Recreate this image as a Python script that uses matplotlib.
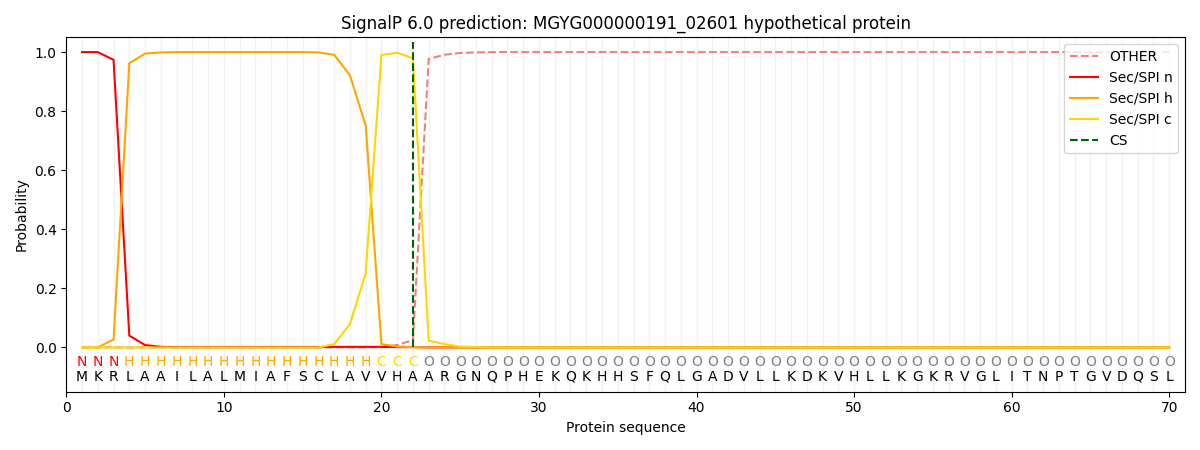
import numpy as np
import matplotlib
matplotlib.use("Agg")
import matplotlib.pyplot as plt

# ===== DATA =====
SEQUENCE = list("MKRLAAILALMIAFSCLAVVHAARGNQPHEKQKHHSFQLGADVLLKDKVHLLKGKRVGLITNPTGVDQSL")
REGIONS = list("NNN" + "H" * 16 + "CCC" + "O" * 48)
CS_POS = 22

sp_n = [1.0, 1.0, 0.974, 0.04, 0.008, 0.002, 0.001, 0.001, 0.001, 0.001,
        0.001, 0.001, 0.001, 0.001, 0.001, 0.001, 0.002, 0.002, 0.002, 0.002,
        0.001, 0.001] + [0.0] * 48
sp_h = [0.0, 0.0, 0.027, 0.962, 0.995, 0.999, 1.0, 1.0, 1.0, 1.0,
        1.0, 1.0, 1.0, 1.0, 1.0, 0.999, 0.991, 0.922, 0.752, 0.011,
        0.003, 0.001] + [0.0] * 48
sp_c = [0.0] * 16 + [0.011, 0.079, 0.25, 0.99, 0.998, 0.979, 0.023, 0.011, 0.003, 0.001] + [0.0] * 44
other = [0.0] * 19 + [0.001, 0.008, 0.025, 0.977, 0.991, 0.997, 0.999] + [1.0] * 44

REGION_COLORS = {"N": "red", "H": "orange", "C": "gold", "O": "grey"}

pos = np.arange(1, len(SEQUENCE) + 1)

fig, ax = plt.subplots(figsize=(12, 4.5), dpi=100)

for p in pos:
    ax.axvline(p, color="lightgray", alpha=0.3, lw=1, zorder=0)

ax.plot(pos, other, "--", color="lightcoral", label="OTHER")
ax.plot(pos, sp_n, color="red", label="Sec/SPI n")
ax.plot(pos, sp_h, color="orange", label="Sec/SPI h")
ax.plot(pos, sp_c, color="gold", label="Sec/SPI c")
ax.vlines(CS_POS, 0, 1.035, color="darkgreen", ls="--", label="CS")

for p, aa, reg in zip(pos, SEQUENCE, REGIONS):
    ax.text(p, -0.048, reg, color=REGION_COLORS[reg], ha="center", va="center", fontsize=10)
    ax.text(p, -0.1, aa, color="black", ha="center", va="center", fontsize=10)

ax.set_xlim(0, 71)
ax.set_ylim(-0.15, 1.05)
ax.set_xlabel("Protein sequence")
ax.set_ylabel("Probability")
ax.set_title("SignalP 6.0 prediction: MGYG000000191_02601 hypothetical protein")
ax.legend(loc="upper right")
plt.tight_layout()
plt.savefig("out.png")
